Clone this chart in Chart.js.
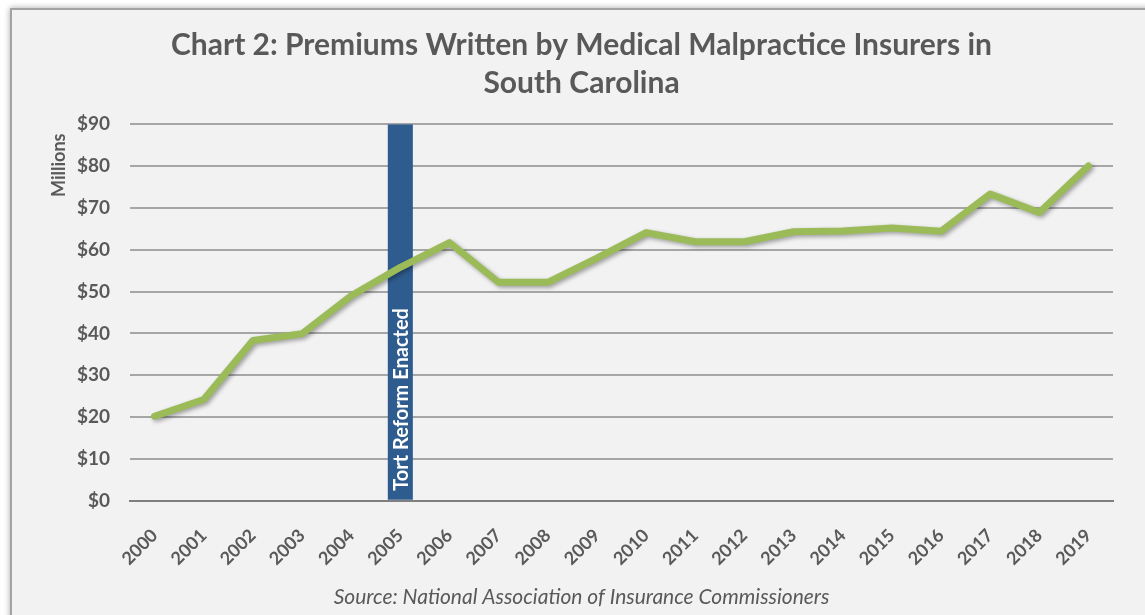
<!DOCTYPE html>
<html>
<head>
<meta charset="utf-8">
<script src="https://cdn.jsdelivr.net/npm/chart.js@4.4.1/dist/chart.umd.min.js"></script>
<style>
  html, body { margin: 0; padding: 0; background: #ffffff; }
  body { width: 1145px; height: 615px; position: relative; overflow: hidden; }
  #panel {
    position: absolute; left: 10px; top: 8px; width: 1150px; height: 620px;
    background: #f2f2f2; border: 2px solid #a3a3a3;
    box-shadow: 0 0 6px rgba(0, 0, 0, 0.35);
  }
  #wrap { position: absolute; left: 0; top: 0; width: 1145px; height: 615px; }
</style>
</head>
<body>
<div id="panel"></div>
<div id="wrap"><canvas id="premiumsChart"></canvas></div>
<script>
// Chart 2 data (millions of dollars)
const years = ['2000', '2001', '2002', '2003', '2004', '2005', '2006', '2007', '2008', '2009',
  '2010', '2011', '2012', '2013', '2014', '2015', '2016', '2017', '2018', '2019'];
const premiums = [20.2, 24.2, 38.3, 39.9, 49, 55.8, 61.7, 52.2, 52.2, 58,
  64.1, 61.9, 61.9, 64.3, 64.5, 65.2, 64.4, 73.3, 68.9, 80];
// marker bar for the year tort reform passed
const reformBar = [null, null, null, null, null, 90, null, null, null, null,
  null, null, null, null, null, null, null, null, null, null];
const reformLabel = 'Tort Reform Enacted';

const textGray = '#595959';
const fontFamily = 'Lato, "Open Sans", sans-serif';

// soft drop shadow under the premiums line
const lineShadow = {
  id: 'lineShadow',
  beforeDatasetDraw(chart, args) {
    if (args.index !== 0) return;
    const ctx = chart.ctx;
    ctx.save();
    ctx.shadowColor = 'rgba(0, 0, 0, 0.35)';
    ctx.shadowBlur = 4;
    ctx.shadowOffsetX = 2;
    ctx.shadowOffsetY = 2;
  },
  afterDatasetDraw(chart, args) {
    if (args.index !== 0) return;
    chart.ctx.restore();
  }
};

// "Millions" label at the top of the y axis + text inside the reform bar
const extraText = {
  id: 'extraText',
  afterDatasetsDraw(chart) {
    const ctx = chart.ctx;
    const area = chart.chartArea;
    ctx.save();
    ctx.fillStyle = textGray;
    ctx.font = 'bold 18px ' + fontFamily;
    ctx.textAlign = 'center';
    ctx.textBaseline = 'middle';
    ctx.translate(59, area.top + 41);
    ctx.rotate(-Math.PI / 2);
    ctx.fillText('Millions', 0, 0);
    ctx.restore();

    const bar = chart.getDatasetMeta(1).data[5];
    if (bar) {
      ctx.save();
      ctx.fillStyle = '#ffffff';
      ctx.font = 'bold 20px ' + fontFamily;
      ctx.textAlign = 'left';
      ctx.textBaseline = 'middle';
      ctx.translate(bar.x + 1, area.bottom - 10);
      ctx.rotate(-Math.PI / 2);
      ctx.fillText(reformLabel, 0, 0);
      ctx.restore();
    }
  }
};

new Chart(document.getElementById('premiumsChart'), {
  data: {
    labels: years,
    datasets: [
      {
        type: 'line',
        label: 'Premiums Written',
        data: premiums,
        borderColor: '#9bbb59',
        borderWidth: 7,
        borderJoinStyle: 'round',
        borderCapStyle: 'round',
        pointRadius: 0,
        tension: 0,
        order: 1
      },
      {
        type: 'bar',
        label: reformLabel,
        data: reformBar,
        backgroundColor: '#2f5c8f',
        barPercentage: 1,
        categoryPercentage: 0.51,
        order: 2
      }
    ]
  },
  options: {
    responsive: true,
    maintainAspectRatio: false,
    animation: false,
    layout: { padding: { top: 0, right: 32, bottom: 5, left: 50 } },
    plugins: {
      legend: { display: false },
      tooltip: { enabled: false },
      title: {
        display: true,
        text: ['Chart 2: Premiums Written by Medical Malpractice Insurers in', 'South Carolina'],
        color: textGray,
        font: { family: fontFamily, size: 30, weight: 'bold', lineHeight: 1.27 },
        padding: { top: 26, bottom: 22 }
      },
      subtitle: {
        display: true,
        position: 'bottom',
        text: 'Source: National Association of Insurance Commissioners',
        color: textGray,
        font: { family: fontFamily, size: 21, style: 'italic' },
        padding: { top: 6, bottom: 0 }
      }
    },
    scales: {
      x: {
        afterFit(scale) { scale.height = 78; },
        grid: { display: false },
        border: { color: '#7f7f7f', width: 2 },
        ticks: {
          color: textGray,
          font: { family: fontFamily, size: 18, weight: 'bold' },
          minRotation: 45,
          maxRotation: 45,
          padding: 16
        }
      },
      y: {
        min: 0,
        max: 90,
        afterFit(scale) { scale.width = 80; },
        border: { display: false },
        grid: { color: '#a6a6a6', lineWidth: 2, drawTicks: false },
        ticks: {
          stepSize: 10,
          color: textGray,
          padding: 20,
          font: { family: fontFamily, size: 19, weight: 'bold' },
          callback: v => '$' + v
        }
      }
    }
  },
  plugins: [lineShadow, extraText]
});
</script>
</body>
</html>
